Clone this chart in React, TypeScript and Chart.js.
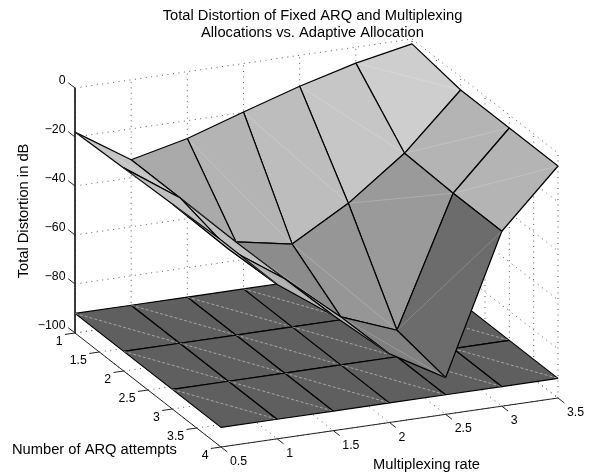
import React, { useEffect, useRef } from "react";
import { Chart, registerables } from "chart.js";

Chart.register(...registerables);

const rates = [0.5, 1, 1.5, 2, 2.5, 3, 3.5];
const attempts = [1, 2, 3, 4];
const rateTicks = [0.5, 1, 1.5, 2, 2.5, 3, 3.5];
const attemptTicks = [1, 1.5, 2, 2.5, 3, 3.5, 4];
const dbTicks = [0, -20, -40, -60, -80, -100];

const distortionAt1 = [-18, -32.6, -27.3, -19.8, -12.6, -6.5, -2];
const distortionAt2 = [-17.1, -32.6, -54, -58.2, -44.9, -27.8, -5.3];
const distortionAt3 = [-16.3, -38, -53.5, -72.4, -81.2, -28.6, -5.3];
const distortionAt4 = [-15.5, -37, -53, -72, -85, -28.6, -5.3];
const surface = [distortionAt1, distortionAt2, distortionAt3, distortionAt4];
const adaptiveFloorDb = -92;

const shadeAt1 = [196, 170, 180, 189, 198, 206];
const shadeAt2 = [192, 192, 140, 150, 154, 180];
const shadeAt3 = [184, 176, 170, 128, 108, 180];
const cellShades = [shadeAt1, shadeAt2, shadeAt3];
const floorShade = 95;

const TITLE = ["Total Distortion of Fixed ARQ and Multiplexing", "Allocations vs. Adaptive Allocation"];
const XLABEL = "Multiplexing rate";
const YLABEL = "Number of ARQ attempts";
const ZLABEL = "Total Distortion in dB";

// Orthographic view (x, y, z) -> plane of the canvas
const VIEW = { ox: 75, oy: 333, ax: 337, ay: -49, bx: 146, by: 114, cy: -245 };
const project = (x: number, y: number, z: number) => {
  const t = (x - 0.5) / 3;
  const u = (y - 1) / 3;
  const w = (z + 100) / 100;
  return { x: VIEW.ox + t * VIEW.ax + u * VIEW.bx, y: VIEW.oy + t * VIEW.ay + u * VIEW.by + w * VIEW.cy };
};

const FONT = '"Liberation Sans", Helvetica, Arial, sans-serif';
const TITLE_TOP = 42;

const seg = (a: any, b: any, color: string, width: number, dash?: number[]) => ({
  data: [a, b],
  showLine: true,
  fill: false,
  pointRadius: 0,
  borderColor: color,
  borderWidth: width,
  borderDash: dash || [],
  clip: false,
});

const quad = (pts: any[], shade: number) => ({
  data: [...pts, pts[0]],
  showLine: true,
  fill: false,
  polygon: true,
  polyColor: `rgb(${shade},${shade},${shade})`,
  pointRadius: 0,
  borderColor: "#000",
  borderWidth: 1.2,
  borderJoinStyle: "bevel",
  clip: false,
});

function buildPaintList() {
  const list: any[] = [];
  const dots = [1, 4.5];
  const dotColor = "#5a5a5a";
  for (const x of rateTicks) {
    list.push(seg(project(x, 1, -100), project(x, 1, 0), dotColor, 1, dots));
    list.push(seg(project(x, 1, -100), project(x, 4, -100), dotColor, 1, dots));
  }
  for (const y of attemptTicks) {
    list.push(seg(project(3.5, y, -100), project(3.5, y, 0), dotColor, 1, dots));
    list.push(seg(project(0.5, y, -100), project(3.5, y, -100), dotColor, 1, dots));
  }
  for (const z of dbTicks) {
    list.push(seg(project(0.5, 1, z), project(3.5, 1, z), dotColor, 1, dots));
    list.push(seg(project(3.5, 1, z), project(3.5, 4, z), dotColor, 1, dots));
  }
  // axes and their ticks
  const axis = "#222";
  list.push(seg(project(0.5, 1, 0), project(0.5, 1, -100), axis, 1));
  list.push(seg(project(0.5, 1, -100), project(0.5, 4, -100), axis, 1));
  list.push(seg(project(0.5, 4, -100), project(3.5, 4, -100), axis, 1));
  for (const z of dbTicks) list.push(seg(project(0.5, 1, z), project(0.5, 0.86, z), axis, 1));
  for (const y of attemptTicks) list.push(seg(project(0.5, y, -100), project(0.41, y, -100), axis, 1));
  for (const x of rateTicks) list.push(seg(project(x, 4, -100), project(x, 4.13, -100), axis, 1));

  // floor (adaptive allocation)
  for (let j = 0; j < attempts.length - 1; j++) {
    for (let i = 0; i < rates.length - 1; i++) {
      const a = project(rates[i], attempts[j], adaptiveFloorDb);
      const b = project(rates[i + 1], attempts[j], adaptiveFloorDb);
      const c = project(rates[i + 1], attempts[j + 1], adaptiveFloorDb);
      const d = project(rates[i], attempts[j + 1], adaptiveFloorDb);
      list.push(quad([a, b, c, d], floorShade));
      list.push(seg(a, c, "rgba(255,255,255,0.55)", 0.8, [3, 2]));
    }
  }

  // fixed allocations, painted back to front
  const cells: any[] = [];
  for (let j = 0; j < attempts.length - 1; j++) {
    for (let i = 0; i < rates.length - 1; i++) {
      const depth = project((rates[i] + rates[i + 1]) / 2, (attempts[j] + attempts[j + 1]) / 2, -100).y;
      cells.push({ i, j, depth });
    }
  }
  cells.sort((p, q) => p.depth - q.depth);
  for (const { i, j } of cells) {
    const a = project(rates[i], attempts[j], surface[j][i]);
    const b = project(rates[i + 1], attempts[j], surface[j][i + 1]);
    const c = project(rates[i + 1], attempts[j + 1], surface[j + 1][i + 1]);
    const d = project(rates[i], attempts[j + 1], surface[j + 1][i]);
    list.push(quad([a, b, c, d], cellShades[j][i]));
    list.push(seg(a, c, "rgba(255,255,255,0.24)", 0.8));
  }
  return list;
}

const polygonFill = {
  id: "polygonFill",
  beforeDatasetDraw(chart: any, args: any) {
    const ds = chart.data.datasets[args.index];
    if (!ds.polygon) return;
    const pts = args.meta.data;
    const ctx = chart.ctx;
    ctx.save();
    ctx.beginPath();
    pts.forEach((p: any, k: number) => (k ? ctx.lineTo(p.x, p.y) : ctx.moveTo(p.x, p.y)));
    ctx.closePath();
    ctx.fillStyle = ds.polyColor;
    ctx.fill();
    ctx.restore();
  },
};

const axisText = {
  id: "axisText",
  afterDraw(chart: any) {
    const { ctx, scales } = chart;
    const px = (p: { x: number; y: number }) => ({ x: scales.x.getPixelForValue(p.x), y: scales.y.getPixelForValue(p.y) });
    ctx.save();
    ctx.fillStyle = "#000";
    ctx.font = `12.3px ${FONT}`;
    ctx.textBaseline = "middle";
    ctx.textAlign = "right";
    for (const z of dbTicks) {
      const p = px(project(0.5, 1, z));
      ctx.fillText(z === 0 ? "0" : "\u2212" + Math.abs(z), p.x - 9.5, p.y - 7);
    }
    for (const y of attemptTicks) {
      const p = px(project(0.5, y, -100));
      ctx.fillText(String(y), p.x - 12.5, p.y + 9);
    }
    ctx.textAlign = "left";
    for (const x of rateTicks) {
      const p = px(project(x, 4, -100));
      ctx.fillText(String(x), p.x + 9, p.y + 14.7);
    }
    ctx.font = `14.7px ${FONT}`;
    ctx.fillText(YLABEL, 12, 450);
    ctx.fillText(XLABEL, 373, 465);
    ctx.translate(24, 211);
    ctx.rotate(-Math.PI / 2);
    ctx.textAlign = "center";
    ctx.fillText(ZLABEL, 0, 0);
    ctx.restore();
  },
};

export default function App() {
  const ref = useRef<HTMLCanvasElement | null>(null);
  useEffect(() => {
    if (!ref.current) return;
    const chart = new Chart(ref.current, {
      type: "scatter",
      data: { datasets: buildPaintList().reverse() },
      plugins: [polygonFill, axisText],
      options: {
        animation: false,
        responsive: false,
        layout: { padding: { left: 35, top: 0, right: 0, bottom: 0 } },
        scales: {
          x: { type: "linear", display: false, min: 35, max: 590 },
          y: { type: "linear", display: false, min: TITLE_TOP, max: 475, reverse: true },
        },
        plugins: {
          legend: { display: false },
          tooltip: { enabled: false },
          title: {
            display: true,
            text: TITLE,
            color: "#000",
            font: { family: FONT, size: 14.7, weight: "normal", lineHeight: 17.4 / 14.7 },
            padding: { top: 7, bottom: 0.2 },
          },
        },
      },
    } as any);
    return () => chart.destroy();
  }, []);
  return (
    <div style={{ position: "fixed", left: 0, top: 0, width: 590, height: 475, background: "#fff" }}>
      <canvas ref={ref} width={590} height={475} style={{ display: "block" }} />
    </div>
  );
}
